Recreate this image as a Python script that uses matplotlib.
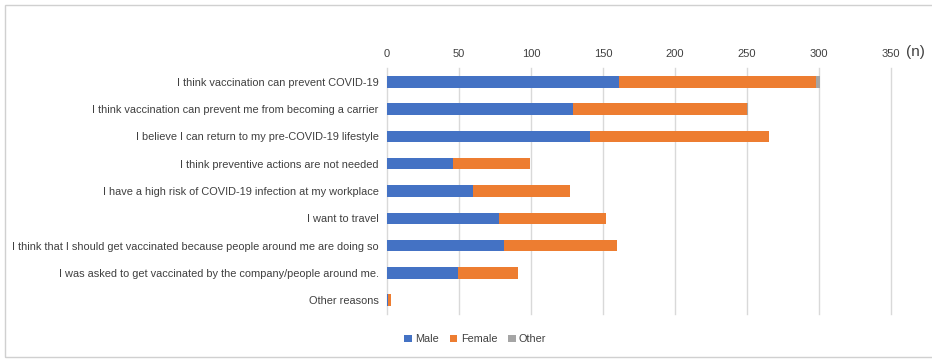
import matplotlib.pyplot as plt
import numpy as np
from matplotlib.patches import Rectangle

# данные: причины вакцинации, значения по полу
reasons = [
    'I think vaccination can prevent COVID-19',
    'I think vaccination can prevent me from becoming a carrier',
    'I believe I can return to my pre-COVID-19 lifestyle',
    'I think preventive actions are not needed',
    'I have a high risk of COVID-19 infection at my workplace',
    'I want to travel',
    'I think that I should get vaccinated because people around me are doing so',
    'I was asked to get vaccinated by the company/people around me.',
    'Other reasons',
]
male = [161, 129, 141, 46, 60, 78, 81, 49, 1]
female = [137, 121, 124, 53, 67, 74, 79, 42, 2]
other = [3, 1, 0, 0, 0, 0, 0, 0, 0]
x_ticks = [0, 50, 100, 150, 200, 250, 300, 350]

plt.rcParams['font.family'] = ['Liberation Sans', 'DejaVu Sans']
text_color = '#404040'

fig = plt.figure(figsize=(9.32, 3.61), dpi=100)
ax = fig.add_axes([0.4152, 0.131, 0.5408, 0.68])

y = np.arange(len(reasons))
male = np.array(male)
female = np.array(female)
other = np.array(other)
h = 0.42
ax.barh(y, male, height=h, color='#4472C4', label='Male', zorder=3)
ax.barh(y, female, left=male, height=h, color='#ED7D31', label='Female', zorder=3)
ax.barh(y, other, left=male + female, height=h, color='#A5A5A5', label='Other', zorder=3)

ax.set_xlim(0, 350)
ax.set_ylim(len(reasons) - 0.5, -0.5)
ax.set_xticks(x_ticks)
ax.set_yticks(y)
ax.set_yticklabels(reasons)
ax.xaxis.tick_top()
ax.tick_params(axis='x', length=0, labelsize=8, colors=text_color, pad=7)
ax.tick_params(axis='y', length=0, labelsize=7.9, colors=text_color, pad=6)
ax.grid(axis='x', color='#d9d9d9', linewidth=1, zorder=0)
for gl in ax.get_xgridlines():
    gl.set_clip_on(False)
for s in ax.spines.values():
    s.set_visible(False)

fig.text(0.982, 0.855, '(n)', fontsize=11, color=text_color, ha='center', va='center')

ax.legend(loc='center', bbox_to_anchor=(0.51, 0.06), bbox_transform=fig.transFigure,
          ncol=3, frameon=False, fontsize=7.8, handlelength=0.7, handleheight=0.7,
          handletextpad=0.3, columnspacing=1.0, labelcolor=text_color)

# рамка вокруг области диаграммы
fig.patches.append(Rectangle((0.0054, 0.011), 1.1, 0.975, transform=fig.transFigure,
                             fill=False, edgecolor='#d0d0d0', linewidth=1))

plt.savefig('out.png', dpi=100)
plt.close()
